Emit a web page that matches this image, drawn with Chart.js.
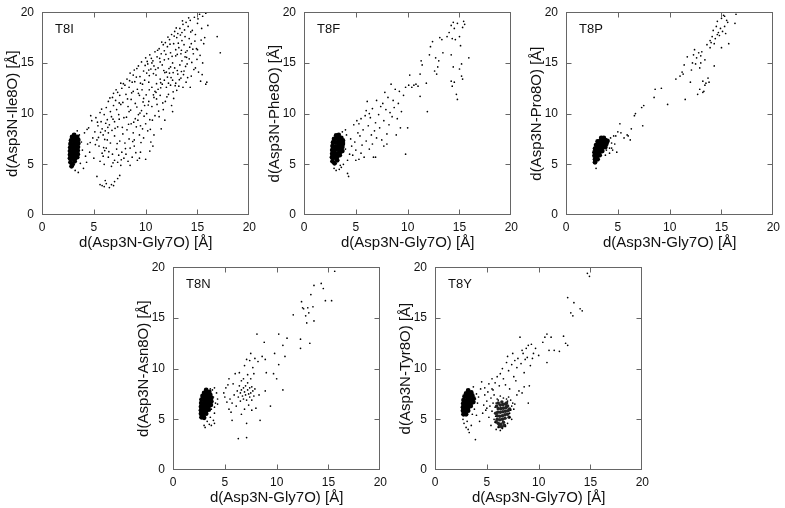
<!DOCTYPE html>
<html>
<head>
<meta charset="utf-8">
<script src="https://cdn.jsdelivr.net/npm/chart.js@4/dist/chart.umd.min.js"></script>
<style>
  body { margin: 0; width: 785px; height: 508px; background: #fff; position: relative; overflow: hidden; }
  canvas { position: absolute; }
</style>
</head>
<body>
<script>
// axis setup shared by all panels
const tickValues = [0, 5, 10, 15, 20];
const xTitle = 'd(Asp3N-Gly7O) [Å]';
const panelNames = ['T8I', 'T8F', 'T8P', 'T8N', 'T8Y'];
const yTitles = ['d(Asp3N-Ile8O) [Å]', 'd(Asp3N-Phe8O) [Å]', 'd(Asp3N-Pro8O) [Å]', 'd(Asp3N-Asn8O) [Å]', 'd(Asp3N-Tyr8O) [Å]'];

// T8I
const t8iCloud = [
  [3.6,7.9],[3.8,7.2],[3.9,6.4],[4.1,8.1],[4.2,5.8],[4.4,7.0],[4.5,8.6],[4.6,6.2],[4.8,9.3],[4.9,7.6],[3.7,5.1],[4.0,4.6],[3.5,4.2],[4.3,5.2],[5.0,5.6],[3.4,8.3],[3.2,4.4],[2.9,4.9],[4.7,9.8],[5.1,8.2],
  [5.2,9.6],[5.4,8.8],[5.6,10.1],[5.7,9.2],[5.9,7.9],[5.3,7.4],[5.8,8.5],[6.0,9.9],[5.5,6.8],[6.1,8.3],
  [6.2,10.6],[6.3,9.4],[6.4,11.2],[6.5,8.9],[6.6,10.2],[6.7,9.7],[6.8,11.6],[6.9,10.8],[7.0,9.2],[6.4,8.1],[6.9,12.0],[7.0,7.8],
  [7.1,11.3],[7.2,10.4],[7.3,12.1],[7.4,9.9],[7.5,11.8],[7.6,10.9],[7.7,12.5],[7.8,11.1],[7.9,9.6],[8.0,12.8],[7.3,8.7],[7.6,13.0],
  [8.1,11.9],[8.2,13.4],[8.3,10.7],[8.4,12.6],[8.5,14.0],[8.6,11.4],[8.7,13.1],[8.8,12.2],[8.9,14.3],[9.0,11.0],[8.4,10.2],[8.8,13.8],
  [9.1,13.6],[9.2,12.4],[9.3,14.7],[9.4,11.8],[9.5,13.0],[9.6,15.1],[9.7,12.9],[9.8,14.2],[9.9,13.3],[10.0,15.5],[9.3,12.0],[9.8,11.5],
  [10.1,14.0],[10.2,14.9],[10.3,13.1],[10.4,15.8],[10.5,14.4],[10.6,12.6],[10.7,15.2],[10.8,14.7],[10.9,16.1],[11.0,13.8],[10.3,14.3],[10.6,15.0],[10.9,12.2],
  [11.1,15.6],[11.2,14.5],[11.3,16.4],[11.4,13.4],[11.5,15.9],[11.6,14.8],[11.7,16.8],[11.8,15.3],[11.9,17.0],[12.0,14.1],[11.4,15.1],[11.8,16.2],
  [12.1,16.6],[12.2,15.4],[12.3,17.3],[12.4,16.0],[12.5,17.8],[12.6,15.0],[12.7,16.9],[12.8,18.1],[12.9,15.7],[13.0,17.5],[12.4,14.6],[12.9,16.3],
  [13.1,17.9],[13.2,16.5],[13.3,18.4],[13.4,15.9],[13.5,17.2],[13.6,18.8],[13.7,16.8],[13.8,17.6],[13.9,19.0],[14.0,16.2],[13.5,18.0],
  [14.1,18.6],[14.2,17.4],[14.3,19.2],[14.4,16.9],[14.5,18.2],[14.7,19.5],[14.8,17.8],[15.0,18.9],[15.2,19.8],[15.4,18.4],[15.5,19.6],[15.7,17.5],[15.8,19.9],[16.0,18.7],[15.6,16.9],[14.9,16.4],[16.9,17.6],[17.2,16.0],
  [5.6,5.3],[5.8,6.1],[6.0,5.0],[6.2,6.6],[6.4,5.7],[6.6,7.1],[6.8,6.0],[7.0,5.4],[6.3,7.4],[5.9,5.8],[6.7,4.8],
  [7.2,6.5],[7.4,5.9],[7.5,7.3],[7.7,6.2],[7.8,8.0],[7.9,5.6],[7.3,5.2],[7.6,4.9],[8.0,7.1],
  [8.1,6.0],[8.2,8.4],[8.3,5.3],[8.4,7.5],[8.5,6.6],[8.6,9.0],[8.7,5.7],[8.8,8.1],[8.9,6.8],[9.0,9.5],[8.5,4.9],[8.9,7.4],
  [9.1,8.7],[9.2,5.4],[9.3,9.9],[9.4,7.9],[9.5,6.2],[9.6,10.3],[9.7,8.5],[9.8,7.6],[9.9,10.8],[10.0,9.0],[9.4,5.6],[9.5,8.8],[10.0,5.5],
  [10.1,10.0],[10.2,8.3],[10.3,11.2],[10.4,9.4],[10.5,7.2],[10.6,10.7],[10.7,6.8],[10.8,11.6],[10.9,9.8],[11.0,12.1],[10.4,6.3],[10.8,7.9],
  [11.1,10.9],[11.2,12.4],[11.3,9.7],[11.4,11.8],[11.5,8.5],[11.6,12.9],[11.7,10.4],[11.8,13.3],[11.9,11.2],[12.0,12.6],
  [12.1,13.6],[12.2,11.9],[12.3,14.0],[12.4,12.8],[12.5,10.8],[12.6,13.3],[12.7,11.5],[12.8,14.5],[12.9,13.0],[13.0,12.3],[12.6,10.2],[12.2,13.0],
  [13.1,13.9],[13.2,12.7],[13.3,14.8],[13.4,13.5],[13.5,15.2],[13.6,12.6],[13.7,14.2],[13.8,15.6],[13.9,13.1],[14.0,14.9],
  [14.2,15.4],[14.4,13.7],[14.6,15.9],[14.8,14.5],[15.0,16.3],[15.3,13.2],[15.5,15.0],[15.8,12.9],[15.9,13.1],[14.3,12.6],[15.1,14.1],
  [5.3,3.8],[5.6,3.0],[5.8,2.9],[6.0,2.8],[6.2,3.1],[6.5,2.7],[6.7,3.0],[7.0,3.3],[7.3,3.6],[7.5,3.9],[6.9,2.9],[6.1,3.4],
  [5.35,9.15],[5.75,10.45],[6.15,9.05],[6.55,11.55],[6.85,9.45],[7.15,12.35],[7.45,11.05],[7.85,12.95],[8.25,11.45],[8.45,13.25],[8.65,12.05],[8.95,13.15],[9.15,14.45],[9.45,13.65],
  [9.65,12.35],[9.95,14.75],[10.15,15.15],[10.35,13.75],[10.55,15.45],[10.75,13.95],[10.95,14.35],[11.15,16.25],[11.35,15.45],[11.55,17.05],[11.75,14.25],[11.95,15.85],[12.15,17.55],
  [12.35,16.85],[12.55,15.65],[12.75,17.65],[12.95,18.45],[13.15,16.95],[13.35,17.75],[13.55,19.15],[13.75,18.25],[13.95,15.55],[14.15,19.45],[14.35,18.05],[14.55,16.35],[14.75,17.15],[15.05,19.35],[15.35,17.25],
  [6.05,6.35],[6.45,6.25],[6.85,5.15],[7.25,7.05],[7.65,5.45],[8.05,6.55],[8.35,8.95],[8.75,7.25],[9.05,6.15],[9.25,9.35],[9.55,7.15],[9.85,9.75],[10.25,10.85],[10.45,8.45],[10.65,9.35],
  [11.05,11.45],[11.25,10.25],[11.45,12.55],[11.65,11.05],[11.85,9.35],[12.05,11.65],[12.45,13.55],[12.65,12.15],[12.85,12.75],[13.05,14.25],[13.25,13.35],[13.45,14.15],[13.65,13.85],[13.85,14.65],
  [14.05,13.55],[14.45,15.05],[14.65,14.35],[14.95,15.35],[15.25,15.75],[15.45,13.85],
  [5.45,7.65],[5.65,8.15],[6.05,7.45],[6.35,8.65],[6.75,8.35],[7.05,8.55],[7.45,9.45],[7.75,8.65],[8.15,9.65],[8.55,10.35],[8.85,9.15],[9.15,10.65],[9.45,10.05],[9.75,11.15],[10.05,11.85],
  [10.35,12.35],[10.75,11.85],[11.05,12.95],[11.45,13.05],[11.85,14.05],[12.25,14.45],[12.65,14.05],[13.05,15.85],[13.45,16.25],[13.85,16.05],[14.25,16.55],[4.35,8.45],[4.65,7.15],[5.15,6.95],[5.95,6.65]
];
const t8iCore = [
  [2.75,5.2],[2.95,5.0],[3.15,5.3],[2.7,5.6],[2.95,5.55],[3.2,5.6],[3.4,5.7],[2.7,5.95],[2.95,5.9],[3.2,5.95],[3.45,6.0],
  [2.7,6.3],[2.95,6.25],[3.2,6.3],[3.45,6.35],[2.72,6.65],[2.97,6.6],[3.22,6.65],[3.47,6.7],[2.75,7.0],[3.0,6.95],[3.25,7.0],[3.5,7.05],
  [2.8,7.35],[3.05,7.3],[3.3,7.35],[3.5,7.4],[2.9,7.7],[3.15,7.65],[3.4,7.7],[3.1,7.9],[2.85,4.8]
];

// T8F
const t8fCloud = [
  [3.9,7.2],[4.0,6.5],[4.1,7.9],[3.8,5.0],[3.6,4.7],[3.4,4.5],[3.1,4.4],[2.9,4.6],[4.3,3.8],[4.2,4.1],[4.4,6.0],[4.2,5.4],[3.7,8.2],[4.5,7.5],[4.6,6.8],[4.0,8.4],[3.5,4.9],[4.7,5.9],
  [4.8,8.9],[4.9,7.2],[5.0,6.4],[5.1,9.3],[5.2,8.1],[5.3,5.5],[5.4,7.8],[5.5,9.5],[5.6,6.9],[5.7,8.4],[5.8,5.7],[5.9,9.8],[6.0,7.3],[5.0,5.4],[5.5,6.1],[6.0,10.3],[5.3,9.0],
  [6.1,11.2],[6.2,8.8],[6.3,6.5],[6.4,9.6],[6.5,7.9],[6.6,10.5],[6.7,5.7],[6.8,8.3],[6.9,9.1],[7.0,11.3],[6.3,10.0],[6.9,5.7],[6.6,7.0],[7.0,7.6],
  [7.2,9.9],[7.3,8.6],[7.4,10.7],[7.5,7.4],[7.6,11.0],[7.7,9.3],[7.8,12.1],[7.9,10.4],[8.0,7.0],[8.1,11.6],[8.2,8.9],[8.3,10.1],[8.4,12.9],[8.5,9.7],[7.7,6.8],[8.0,8.0],
  [8.6,11.3],[8.7,10.6],[8.8,12.4],[8.9,7.9],[9.0,9.5],[9.1,11.0],[9.3,8.6],[9.4,10.2],[9.6,11.8],[9.8,12.6],[10.0,8.6],[9.8,6.0],[9.2,12.2],[10.1,12.8],
  [10.2,13.8],[10.4,12.6],[10.6,12.8],[10.8,12.9],[11.0,12.7],[11.2,13.9],[11.3,15.2],[11.4,14.8],[11.2,11.7],[11.9,10.2],[11.8,13.0],[12.1,15.8],
  [12.2,16.6],[12.4,17.1],[12.6,14.2],[12.8,13.9],[12.9,14.6],[13.0,15.2],[13.1,17.5],[13.3,17.3],[13.4,16.0],[12.7,15.5],
  [13.8,17.6],[14.0,18.0],[14.2,18.7],[14.3,17.4],[14.4,19.0],[14.5,18.4],[14.6,17.3],[14.8,18.9],[15.0,17.6],[15.3,18.5],[15.4,19.1],[15.5,18.8],
  [14.2,13.2],[14.3,12.7],[14.5,13.1],[14.4,14.6],[14.7,11.9],[14.8,11.4],[15.0,14.4],[15.2,13.7],[15.3,13.4],[15.1,16.7],[15.9,15.5],[14.2,15.8],[15.2,14.9]
];
const t8fCore = [
  [2.75,5.3],[2.95,5.1],[3.2,5.4],[2.7,5.7],[2.95,5.65],[3.2,5.75],[3.45,5.9],[2.72,6.05],[2.97,6.0],[3.22,6.05],[3.47,6.2],[3.7,6.3],
  [2.72,6.4],[2.97,6.4],[3.22,6.45],[3.47,6.55],[3.7,6.7],[2.75,6.8],[3.0,6.75],[3.25,6.8],[3.5,6.9],[3.75,7.0],
  [2.8,7.15],[3.05,7.15],[3.3,7.2],[3.55,7.25],[3.75,7.35],[2.9,7.5],[3.15,7.55],[3.4,7.6],[3.6,7.6],[3.1,7.85],[3.35,7.9]
];

// T8P
const t8pCloud = [
  [3.9,7.5],[4.0,6.9],[4.1,7.3],[4.2,6.6],[4.3,7.6],[4.4,7.1],[4.5,6.4],[4.6,7.8],[4.2,6.1],[3.8,5.9],[4.7,7.0],[4.8,7.8],[5.0,8.2],[5.2,9.0],[4.9,6.2],[5.6,7.6],[5.9,7.9],[6.0,7.8],[6.2,7.4],[2.9,4.6],[5.3,8.1],[4.4,6.6],[3.9,6.4],
  [6.3,8.5],[6.6,9.8],[6.7,10.0],[7.3,10.6],[7.5,10.8],[7.4,8.8],[8.5,11.6],[8.6,12.4],[9.2,12.5],[9.8,10.9],[10.6,13.4],[11.0,13.7],[11.2,14.1],[11.4,14.8],[11.5,11.4],[11.7,15.6],[11.3,13.9],
  [12.0,13.1],[12.1,14.3],[12.2,15.0],[12.3,15.8],[12.4,16.3],[12.5,14.9],[12.6,15.5],[12.7,11.9],[12.8,16.0],[12.9,12.4],[13.0,15.7],[13.1,16.1],[13.2,13.2],[13.3,12.2],[13.4,12.8],[13.5,13.0],
  [13.6,16.8],[13.7,13.5],[13.8,13.1],[13.2,12.1],[13.0,15.0],[13.4,15.3],[13.9,16.5],[14.0,17.0],[14.1,17.6],[14.2,18.2],[14.3,16.9],[14.4,17.4],[14.5,18.6],[14.6,19.1],[14.7,18.0],[14.8,17.7],
  [14.9,18.4],[15.0,19.4],[15.1,18.1],[15.2,19.7],[15.3,18.6],[15.4,17.9],[15.5,19.2],[15.6,19.0],[15.7,16.9],[15.0,16.5],[14.3,14.7],[16.3,18.9],[16.4,19.8],[14.6,17.8],[15.3,19.6],[13.9,17.2],[12.9,14.5]
];
const t8pCore = [
  [2.8,5.2],[2.8,5.5],[3.05,5.5],[2.75,5.85],[3.0,5.85],[3.25,5.9],[2.75,6.2],[3.0,6.2],[3.25,6.25],[3.5,6.3],
  [2.8,6.55],[3.05,6.55],[3.3,6.6],[3.55,6.65],[3.8,6.7],[2.9,6.9],[3.15,6.9],[3.4,6.95],[3.65,7.0],[3.9,7.05],
  [3.05,7.25],[3.3,7.3],[3.55,7.3],[3.8,7.35],[3.4,7.6],[3.65,7.6],[4.0,7.3]
];

// T8N
const t8nCloud = [
  [3.8,7.9],[4.0,8.1],[3.9,7.2],[4.1,6.6],[4.3,6.5],[3.7,6.0],[4.0,5.6],[3.6,5.2],[3.9,4.9],[4.0,4.6],[3.3,4.8],[3.5,4.5],[3.0,4.4],[3.1,4.2],[3.7,4.4],[4.2,7.6],[4.3,7.0],[3.8,6.8],[3.6,8.0],[4.0,6.2],
  [4.9,7.6],[5.0,7.2],[5.1,8.1],[5.2,6.7],[5.3,8.4],[5.4,6.0],[5.5,7.0],[5.6,5.7],[5.7,6.6],[5.8,8.5],[5.9,7.4],[5.7,4.9],[5.4,9.0],[6.0,9.5],[6.1,6.3],[6.2,7.8],[6.3,7.2],[6.4,8.3],
  [6.5,7.6],[6.5,6.8],[6.6,7.9],[6.7,7.3],[6.8,8.1],[6.8,7.0],[6.9,7.7],[7.0,8.3],[7.0,7.4],[7.1,6.9],[7.2,7.9],[7.2,8.6],[7.3,7.5],[7.4,8.1],[7.4,7.2],[7.5,7.6],[7.6,8.2],[7.6,6.9],
  [7.7,7.8],[7.8,7.3],[7.9,8.0],[8.0,6.1],[7.3,6.4],[6.9,6.0],[6.6,5.5],[7.6,5.9],[7.1,4.6],[8.4,4.9],[6.3,3.1],[7.1,3.2],[8.3,7.4],[8.9,7.8],
  [6.9,10.3],[7.2,9.4],[7.4,10.8],[7.5,11.5],[7.7,10.1],[7.9,11.0],[7.8,9.5],[8.1,13.4],[8.2,10.7],[8.6,11.2],[8.8,12.6],[8.9,10.9],[9.0,9.6],[6.4,9.6],[6.8,9.0],[7.5,9.0],[7.1,10.9],[6.6,8.8],
  [9.4,6.3],[9.7,9.5],[9.8,11.5],[10.0,9.0],[10.2,10.4],[10.2,13.4],[10.6,12.3],[10.6,7.9],[11.0,13.0],[10.8,11.2],[12.3,12.0],[12.3,12.9],[13.2,12.5],
  [11.6,15.3],[12.4,16.6],[12.6,15.9],[12.9,14.5],[12.8,15.2],[13.0,16.0],[13.3,17.3],[13.6,18.2],[13.6,14.7],[13.5,16.1],[14.3,18.4],[14.5,17.9],[14.7,16.7],[15.3,16.7],[15.6,19.6],[12.5,16.0],[13.1,15.5]
];
const t8nCore = [
  [2.75,5.2],[3.0,5.15],[2.7,5.55],[2.95,5.5],[3.2,5.55],[2.7,5.9],[2.95,5.85],[3.2,5.9],[3.45,5.95],[2.7,6.25],[2.95,6.2],[3.2,6.25],[3.45,6.3],[3.65,6.4],
  [2.72,6.6],[2.97,6.55],[3.22,6.6],[3.47,6.65],[3.7,6.75],[2.75,6.95],[3.0,6.9],[3.25,6.95],[3.5,7.0],[3.7,7.1],
  [2.85,7.3],[3.1,7.25],[3.35,7.3],[3.6,7.4],[3.0,7.6],[3.25,7.6],[3.5,7.7],[3.2,7.9]
];

// T8Y
const t8yCloud = [
  [3.0,4.2],[3.3,3.7],[3.2,4.0],[3.9,3.0],[2.8,4.6],[3.1,4.8],[3.5,4.4],[2.7,5.0],[3.8,6.0],[3.9,7.0],[4.0,7.5],[4.1,6.6],[4.2,7.2],[4.4,8.0],[4.5,8.7],[4.3,4.8],[4.0,5.4],[3.7,8.2],[3.6,5.5],
  [4.6,5.6],[4.7,6.4],[4.8,7.4],[4.9,5.9],[5.0,6.8],[5.1,7.7],[5.2,5.2],[5.3,6.3],[5.4,7.1],[5.5,8.0],[5.5,5.8],[5.6,6.6],[5.7,7.4],[5.7,5.0],[5.8,4.7],[5.2,8.5],[4.8,8.1],[5.0,6.1],[5.4,4.4],[5.6,7.9],
  [5.9,4.0],[6.1,4.2],[6.3,3.9],[6.5,4.1],[6.8,4.3],[7.0,4.6],[7.2,5.2],[7.3,5.9],[7.4,6.3],[7.5,6.6],[7.3,6.9],[7.1,7.2],[6.9,7.0],[6.6,7.1],[6.3,7.3],[6.0,7.0],[5.9,6.6],[7.6,6.0],[7.2,5.6],[7.7,6.5],[7.4,5.0],[5.8,6.2],[5.85,5.3],[7.0,6.8],[6.1,6.9],
  [5.5,9.0],[5.8,8.6],[6.0,9.2],[6.2,8.3],[6.5,10.0],[6.6,9.0],[6.8,8.4],[7.0,11.2],[7.1,9.8],[7.2,8.0],[7.4,10.4],[7.5,11.5],[7.6,9.2],[7.7,10.8],[7.8,8.8],[7.9,10.1],[8.0,11.0],[8.2,13.1],
  [8.3,10.5],[8.4,11.8],[8.5,11.5],[8.6,9.6],[8.7,10.9],[8.8,12.0],[8.9,11.1],[9.0,6.6],[9.1,8.3],[9.2,10.3],[9.3,12.4],[9.4,11.0],[9.5,11.5],[9.7,12.0],[8.1,7.8],[8.4,7.6],[7.9,7.4],[8.6,8.2],
  [10.4,12.6],[10.6,13.1],[10.8,13.4],[10.8,10.6],[11.0,11.8],[11.2,13.1],[11.5,11.8],[12.0,11.7],[12.4,13.2],[12.6,12.5],[12.8,12.3],[10.0,11.3],[6.3,9.5],[6.9,10.6],[9.0,12.3],
  [12.8,17.0],[13.1,15.5],[13.3,15.2],[13.4,16.5],[14.0,15.9],[14.2,15.7],[14.7,19.4],[14.9,19.1]
];
const t8yCore = [
  [2.75,5.5],[3.0,5.5],[2.7,5.85],[2.95,5.8],[3.2,5.85],[2.7,6.2],[2.95,6.15],[3.2,6.2],[3.45,6.3],[2.72,6.55],[2.97,6.5],[3.22,6.55],[3.47,6.6],[3.7,6.7],
  [2.75,6.9],[3.0,6.85],[3.25,6.9],[3.5,6.95],[3.72,7.05],[2.85,7.25],[3.1,7.2],[3.35,7.25],[3.6,7.35],[3.0,7.55],[3.25,7.55],[3.5,7.65],[3.2,7.85]
];
const t8yCore2 = [
  [6.1,4.6],[6.35,4.5],[6.6,4.7],[6.0,5.0],[6.25,4.95],[6.5,5.0],[6.75,5.1],[6.0,5.35],[6.25,5.3],[6.5,5.35],[6.75,5.45],[7.0,5.5],
  [6.05,5.7],[6.3,5.7],[6.55,5.75],[6.8,5.8],[7.05,5.85],[6.1,6.05],[6.35,6.05],[6.6,6.1],[6.85,6.15],[6.3,6.4],[6.55,6.45],[6.8,6.5],
  [6.2,4.3],[6.45,4.25],[5.9,4.75],[5.85,5.6],[7.15,5.2],[7.2,6.0],[6.9,6.6],[6.1,6.6],[6.45,6.7],[5.95,6.3],[7.0,6.3],[6.7,4.4]
];

const panels = [
  { cloud: t8iCloud, cores: [t8iCore], left: 42, top: 5 },
  { cloud: t8fCloud, cores: [t8fCore], left: 304, top: 5 },
  { cloud: t8pCloud, cores: [t8pCore], left: 566, top: 5 },
  { cloud: t8nCloud, cores: [t8nCore], left: 173, top: 260 },
  { cloud: t8yCloud, cores: [t8yCore, t8yCore2], left: 435, top: 260 }
];

const PAD_L = 45, PAD_T = 8, PAD_R = 8, PAD_B = 40, PLOT_W = 211, PLOT_H = 210;
const FONT = '"Liberation Sans", Arial, Helvetica, sans-serif';
Chart.defaults.font.family = FONT;
Chart.defaults.color = '#111';

const framePlugin = {
  id: 'frame',
  afterDraw(chart) {
    const { ctx, chartArea: a, scales: { x, y } } = chart;
    const l = Math.round(a.left) + 0.5, r = Math.round(a.right) - 0.5;
    const t = Math.round(a.top) + 0.5, b = Math.round(a.bottom) - 0.5;
    ctx.save();
    ctx.strokeStyle = '#666';
    ctx.lineWidth = 1;
    ctx.strokeRect(l, t, r - l, b - t);
    ctx.beginPath();
    [5, 10, 15].forEach(v => {
      const px = Math.round(x.getPixelForValue(v)) + 0.5;
      ctx.moveTo(px, b); ctx.lineTo(px, b - 5);
      ctx.moveTo(px, t); ctx.lineTo(px, t + 5);
      const py = Math.round(y.getPixelForValue(v)) + 0.5;
      ctx.moveTo(l, py); ctx.lineTo(l + 5, py);
      ctx.moveTo(r, py); ctx.lineTo(r - 5, py);
    });
    ctx.stroke();
    ctx.fillStyle = '#111';
    ctx.font = '13px ' + FONT;
    ctx.fillText(chart.options.panelName, a.left + 13, a.top + 21);
    ctx.restore();
  }
};

const toPoints = arr => arr.map(([x, y]) => ({ x, y }));

panels.forEach((p, i) => {
  const canvas = document.createElement('canvas');
  canvas.width = PAD_L + PLOT_W + PAD_R;
  canvas.height = PAD_T + PLOT_H + PAD_B;
  canvas.style.left = (p.left - PAD_L) + 'px';
  canvas.style.top = (p.top - PAD_T) + 'px';
  document.body.appendChild(canvas);

  const datasets = [{
    data: toPoints(p.cloud),
    pointRadius: 0.85,
    backgroundColor: '#000',
    borderWidth: 0
  }];
  p.cores.forEach((c, k) => datasets.push({
    data: toPoints(c),
    pointRadius: k === 0 ? 2.4 : 1.8,
    backgroundColor: k === 0 ? '#000' : '#222',
    borderWidth: 0
  }));

  new Chart(canvas, {
    type: 'scatter',
    data: { datasets },
    options: {
      panelName: panelNames[i],
      responsive: false,
      animation: false,
      events: [],
      layout: { padding: { left: 0, top: PAD_T, right: PAD_R, bottom: 0 } },
      plugins: { legend: { display: false }, tooltip: { enabled: false } },
      scales: {
        x: {
          type: 'linear', min: 0, max: 20,
          afterBuildTicks: s => { s.ticks = tickValues.map(v => ({ value: v })); },
          afterFit: s => { s.height = PAD_B; },
          ticks: { padding: 5, font: { size: 12 }, maxRotation: 0 },
          grid: { display: false, drawTicks: false },
          border: { display: false },
          title: { display: true, text: xTitle, font: { size: 15 }, padding: { top: 0, bottom: 3 } }
        },
        y: {
          type: 'linear', min: 0, max: 20,
          afterBuildTicks: s => { s.ticks = tickValues.map(v => ({ value: v })); },
          afterFit: s => { s.width = PAD_L; },
          ticks: { padding: 8, font: { size: 12 } },
          grid: { display: false, drawTicks: false },
          border: { display: false },
          title: { display: true, text: yTitles[i], font: { size: 15 }, padding: { top: 7, bottom: 0 } }
        }
      }
    },
    plugins: [framePlugin]
  });
});
</script>
</body>
</html>
